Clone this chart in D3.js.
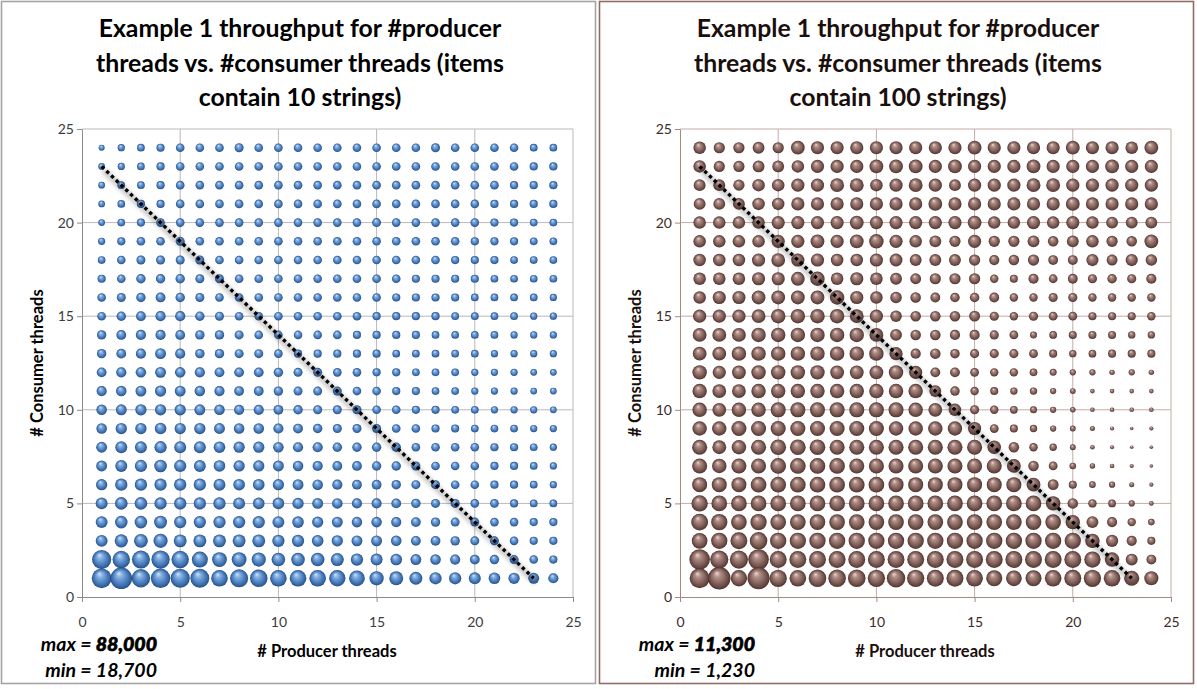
<!DOCTYPE html>
<html><head><meta charset="utf-8">
<script src="https://cdn.jsdelivr.net/npm/d3@7"></script>
<style>body{margin:0;background:#fff}svg{display:block}</style>
</head><body>
<svg id="c" width="1197" height="689"></svg>
<script>
// ---------- data ----------
const producerThreads = [1,2,3,4,5,6,7,8,9,10,11,12,13,14,15,16,17,18,19,20,21,22,23,24];
const consumerThreads = [24,23,22,21,20,19,18,17,16,15,14,13,12,11,10,9,8,7,6,5,4,3,2,1];
const axisTicks = [0,5,10,15,20,25];
const trendProducer = [1,23];
const trendConsumer = [23,1];
const titleLines10 = ["Example 1 throughput for #producer","threads vs. #consumer threads (items","contain 10 strings)"];
const titleLines100 = ["Example 1 throughput for #producer","threads vs. #consumer threads (items","contain 100 strings)"];
const xAxisTitle = "# Producer threads";
const yAxisTitle = "# Consumer threads";

// throughput (thousands of items/s), rows = consumer threads 24 .. 1, columns = producer threads 1 .. 24
const throughput10 = [
[18.7,21.6,23.1,24.6,26.1,26.1, 26.1,27.5,26.1,26.1,26.1,26.1, 26.1,26.1,26.1,26.1,26.1,27.5, 26.1,26.1,26.1,26.1,23.1,23.1],
[20.2,21.6,23.1,24.6,26.1,26.1, 26.1,26.1,26.1,26.1,26.1,26.1, 26.1,26.1,26.1,26.1,26.1,26.1, 26.1,26.1,26.1,26.1,24.6,24.6],
[20.2,23.1,23.1,24.6,26.1,26.1, 26.1,26.1,26.1,26.1,26.1,26.1, 26.1,26.1,26.1,26.1,26.1,26.1, 26.1,26.1,26.1,24.6,24.6,24.6],
[20.2,23.1,24.6,24.6,26.1,26.1, 26.1,26.1,26.1,26.1,26.1,26.1, 26.1,26.1,26.1,26.1,26.1,26.1, 26.1,26.1,24.6,24.6,24.6,24.6],
[20.2,23.1,24.6,26.1,26.1,26.1, 26.1,26.1,26.1,26.1,26.1,26.1, 26.1,26.1,27.5,26.1,26.1,26.1, 26.1,26.1,24.6,24.6,23.1,23.1],
[21.6,24.6,26.1,26.1,27.5,26.1, 26.1,26.1,26.1,26.1,26.1,26.1, 26.1,26.1,26.1,26.1,26.1,26.1, 26.1,24.6,24.6,24.6,23.1,23.1],
[23.1,26.1,27.5,27.5,27.5,27.5, 26.1,26.1,26.1,26.1,26.1,26.1, 26.1,26.1,26.1,26.1,26.1,26.1, 24.6,24.6,24.6,23.1,23.1,23.1],
[24.6,26.1,29.0,29.0,29.0,27.5, 27.5,26.1,26.1,26.1,26.1,26.1, 26.1,26.1,26.1,26.1,24.6,24.6, 24.6,24.6,23.1,23.1,23.1,23.1],
[26.1,27.5,29.0,30.5,29.0,27.5, 26.1,26.1,26.1,26.1,26.1,26.1, 26.1,26.1,26.1,24.6,24.6,24.6, 24.6,23.1,23.1,23.1,23.1,21.6],
[26.1,29.0,30.5,32.0,32.0,29.0, 27.5,26.1,26.1,26.1,26.1,26.1, 26.1,26.1,24.6,24.6,24.6,24.6, 23.1,23.1,23.1,23.1,21.6,21.6],
[29.0,30.5,32.0,32.0,30.5,29.0, 29.0,27.5,26.1,26.1,26.1,26.1, 26.1,24.6,24.6,24.6,24.6,23.1, 23.1,23.1,23.1,21.6,21.6,21.6],
[29.0,30.5,32.0,34.9,32.0,29.0, 29.0,27.5,27.5,26.1,24.6,24.6, 24.6,24.6,24.6,23.1,23.1,23.1, 23.1,23.1,21.6,21.6,21.6,21.6],
[30.5,32.0,33.4,34.9,33.4,32.0, 30.5,30.5,30.5,29.0,27.5,27.5, 26.1,26.1,24.6,24.6,23.1,23.1, 23.1,21.6,21.6,21.6,20.2,20.2],
[32.0,33.4,34.9,36.4,34.9,33.4, 32.0,30.5,30.5,29.0,27.5,27.5, 27.5,26.1,26.1,24.6,24.6,23.1, 23.1,21.6,21.6,21.6,20.2,20.2],
[33.4,34.9,36.4,36.4,36.4,34.9, 33.4,32.0,32.0,30.5,29.0,27.5, 27.5,27.5,26.1,26.1,24.6,24.6, 23.1,23.1,21.6,21.6,21.6,20.2],
[33.4,36.4,36.4,37.9,36.4,36.4, 34.9,33.4,33.4,32.0,30.5,29.0, 27.5,27.5,27.5,26.1,26.1,24.6, 24.6,23.1,23.1,23.1,21.6,21.6],
[34.9,39.3,39.3,40.8,39.3,39.3, 37.9,36.4,36.4,33.4,32.0,32.0, 29.0,29.0,29.0,29.0,26.1,26.1, 26.1,26.1,24.6,24.6,23.1,21.6],
[34.9,39.3,40.8,42.3,40.8,39.3, 37.9,36.4,36.4,34.9,33.4,32.0, 30.5,30.5,29.0,29.0,27.5,26.1, 26.1,26.1,24.6,24.6,23.1,21.6],
[36.4,40.8,40.8,40.8,40.8,40.8, 39.3,37.9,37.9,36.4,34.9,33.4, 32.0,30.5,30.5,29.0,27.5,27.5, 26.1,26.1,24.6,24.6,23.1,21.6],
[39.3,42.3,42.3,40.8,40.8,40.8, 40.8,39.3,37.9,37.9,36.4,34.9, 33.4,32.0,32.0,30.5,29.0,27.5, 27.5,26.1,26.1,24.6,23.1,23.1],
[39.3,42.3,42.3,43.8,40.8,40.8, 40.8,40.8,40.8,39.3,37.9,36.4, 34.9,33.4,33.4,32.0,30.5,29.0, 27.5,27.5,26.1,26.1,24.6,24.6],
[39.3,45.2,48.2,49.7,43.8,43.8, 43.8,43.8,43.8,40.8,40.8,37.9, 36.4,34.9,34.9,33.4,30.5,30.5, 29.0,27.5,27.5,26.1,24.6,24.6],
[74.7,65.9,68.8,70.3,65.9,58.5, 52.6,52.6,49.7,46.7,46.7,46.7, 43.8,40.8,39.3,37.9,34.9,33.4, 32.0,30.5,29.0,27.5,26.1,24.6],
[77.7,88.0,70.3,76.2,74.7,73.2, 61.4,68.8,65.9,61.4,61.4,61.4, 60.0,57.0,49.7,48.2,43.8,40.8, 40.8,39.3,37.9,36.4,34.9,32.0]
];
const throughput100 = [
[5.54,4.82,4.82,5.18,4.82,6.26, 5.90,5.90,5.90,5.90,5.90,5.90, 5.90,5.90,6.26,5.90,5.90,5.90, 5.90,6.26,5.90,5.90,5.54,6.26],
[5.54,4.82,4.82,5.18,5.18,5.54, 5.90,5.90,5.90,6.26,6.26,6.26, 5.90,6.26,5.90,5.90,5.90,6.26, 5.90,5.90,5.90,6.26,5.90,5.90],
[5.18,5.18,4.82,5.54,5.54,5.90, 5.90,6.26,6.26,5.54,5.90,6.26, 5.90,5.18,5.90,5.90,5.90,6.26, 6.26,5.90,5.90,5.90,5.90,5.90],
[5.18,5.18,5.18,5.54,5.54,5.90, 5.90,5.90,5.90,5.90,5.90,5.90, 6.26,5.90,5.90,5.90,5.90,5.90, 5.90,6.26,5.90,5.90,5.90,5.90],
[5.54,5.54,5.54,5.54,5.90,5.90, 5.90,5.90,6.26,5.90,5.90,5.90, 5.90,5.90,6.26,5.54,5.54,5.90, 5.54,5.90,5.54,5.18,5.18,5.18],
[5.54,5.54,5.54,5.54,5.90,5.90, 6.26,5.90,6.26,6.61,5.90,5.54, 5.18,4.82,5.90,4.82,4.82,5.18, 4.46,5.18,5.54,4.82,4.46,6.26],
[5.54,5.54,5.54,5.90,6.26,5.90, 5.90,5.54,5.54,5.90,5.72,5.18, 5.18,5.18,4.82,4.28,4.46,4.82, 4.10,4.10,5.36,4.64,5.36,5.00],
[5.54,5.54,5.54,5.90,5.90,6.26, 6.61,5.54,5.90,5.54,5.18,4.64, 4.82,4.82,4.82,3.38,3.20,4.28, 3.56,4.10,3.74,3.92,3.74,4.28],
[5.54,5.90,5.90,6.26,6.26,6.26, 6.26,6.61,5.90,5.54,5.00,4.46, 4.10,3.92,3.92,4.10,3.38,3.38, 3.74,3.74,3.38,3.38,3.38,3.38],
[5.90,5.90,5.90,6.26,6.61,6.61, 6.61,6.61,6.26,5.90,5.00,4.46, 4.46,4.46,4.64,3.74,3.38,3.74, 3.56,3.56,3.20,3.20,3.20,3.38],
[6.26,6.26,6.26,6.61,6.61,6.61, 6.61,6.61,6.61,6.26,5.18,4.46, 4.46,4.28,4.28,3.74,3.56,2.67, 3.03,3.20,3.20,3.20,2.85,2.85],
[6.26,6.26,6.61,6.61,6.61,6.61, 6.61,6.61,6.61,6.61,5.90,4.28, 4.46,3.92,3.74,3.74,3.74,3.56, 3.20,2.85,3.03,3.20,3.20,3.20],
[6.61,5.90,6.26,6.61,6.61,6.61, 6.61,6.26,6.26,6.26,6.61,5.90, 4.10,4.10,3.56,3.38,3.38,3.03, 2.67,2.31,2.31,1.95,2.31,1.95],
[6.61,6.26,6.26,6.61,6.61,6.61, 6.61,6.61,6.61,6.61,6.61,6.61, 5.18,3.92,3.38,3.20,2.85,2.85, 2.31,2.13,1.59,1.59,1.59,1.59],
[6.61,6.26,6.61,6.61,6.97,6.97, 6.97,6.97,6.97,6.97,6.97,6.61, 6.26,5.54,3.74,3.38,3.03,2.67, 2.31,1.95,1.59,1.59,1.59,1.59],
[6.61,6.61,6.97,6.97,6.97,6.97, 6.97,6.97,6.97,6.97,6.61,6.61, 6.61,6.61,5.90,3.56,3.20,2.85, 2.31,2.13,1.77,1.41,1.23,1.41],
[6.97,6.26,6.61,6.97,7.33,7.33, 7.33,6.97,6.97,6.97,6.97,6.97, 6.97,6.97,6.97,6.08,4.46,3.38, 2.85,2.13,1.59,1.41,1.23,1.23],
[6.97,6.61,6.97,6.97,7.33,7.33, 7.33,7.33,6.97,6.97,6.97,6.97, 6.97,6.97,6.97,6.97,6.26,4.46, 3.56,2.49,1.95,1.59,1.41,1.23],
[6.97,6.97,6.97,7.33,7.33,7.33, 7.33,7.33,7.33,7.33,6.97,6.97, 6.97,6.97,6.97,6.97,6.97,6.26, 4.64,3.20,2.49,2.31,1.77,1.41],
[7.69,7.33,7.33,7.33,7.33,7.33, 7.33,7.33,7.33,7.33,7.33,7.33, 7.33,7.33,7.33,7.33,7.33,7.33, 6.61,4.46,3.38,3.03,2.31,1.59],
[8.05,7.69,7.33,7.69,7.33,7.33, 7.33,7.33,7.33,7.33,7.33,7.33, 7.33,7.33,7.33,7.33,7.33,7.33, 7.33,6.61,5.18,4.28,3.38,2.49],
[7.33,7.69,8.05,8.41,7.69,7.69, 7.69,7.69,7.69,7.69,7.69,7.69, 7.69,7.69,7.69,7.69,7.69,7.69, 7.69,7.69,6.61,5.36,4.28,3.20],
[10.20,8.77,8.77,10.20,8.05,8.05, 8.05,8.05,8.05,8.05,8.05,8.05, 8.05,8.05,8.05,8.05,8.05,8.05, 8.05,8.05,7.69,6.61,5.18,4.10],
[9.85,11.30,7.69,11.12,8.23,7.87, 8.41,8.41,8.41,8.23,8.95,8.23, 8.05,8.05,7.87,7.51,7.33,7.51, 7.87,8.05,8.23,7.87,6.97,6.43]
];

// ---------- drawing ----------
const svg = d3.select("#c");
const defs = svg.append("defs");
function sphere(id, stops){
  const g = defs.append("radialGradient").attr("id",id)
    .attr("cx","50%").attr("cy","50%").attr("r","50%").attr("fx","38%").attr("fy","26%");
  stops.forEach(s=>g.append("stop").attr("offset",s[0]).attr("stop-color",s[1]));
}
sphere("gBlue",[[0,"#d4e5f9"],[0.28,"#86b0e2"],[0.62,"#5185c3"],[0.88,"#3463a0"],[1,"#274d80"]]);
sphere("gBrown",[[0,"#eed8d2"],[0.28,"#b08f89"],[0.62,"#88655f"],[0.88,"#634540"],[1,"#4d342f"]]);
const blur = defs.append("filter").attr("id","soft").attr("x","-10%").attr("y","-10%").attr("width","120%").attr("height","120%");
blur.append("feGaussianBlur").attr("stdDeviation",2.2);

const font = "Lato, 'Open Sans', 'DejaVu Sans', sans-serif";
const fmt = v => d3.format(",")(Math.round(v*1000));

const panels = [
  {ox:0, title:titleLines10, rows:throughput10, fill:"url(#gBlue)", grid:"#b9b9b9", axis:"#8c8c8c",
   text:"#3c3c3c", dark:"#000", border:"#a4a4a4", r:[3.0,10.8], k:0.8},
  {ox:598, title:titleLines100, rows:throughput100, fill:"url(#gBrown)", grid:"#c4aca7", axis:"#a38984",
   text:"#3e2b27", dark:"#1a0f0d", border:"#8f6c65", r:[1.8,11.2], k:0.88}
];

panels.forEach(p=>{
  const g = svg.append("g");
  g.append("rect").attr("x",p.ox+1.5).attr("y",1.5).attr("width",594).attr("height",682)
    .attr("fill","#fff").attr("stroke",p.border).attr("stroke-width",1.6);

  const x = d3.scaleLinear().domain([0,25]).range([p.ox+82, p.ox+573]);
  const y = d3.scaleLinear().domain([0,25]).range([597,129]);

  // gridlines
  g.selectAll("line.gv").data(axisTicks.slice(1)).join("line")
    .attr("x1",d=>x(d)).attr("x2",d=>x(d)).attr("y1",y(0)).attr("y2",y(25))
    .attr("stroke",p.grid).attr("stroke-width",1);
  g.selectAll("line.gh").data(axisTicks.slice(1)).join("line")
    .attr("x1",x(0)).attr("x2",x(25)).attr("y1",d=>y(d)).attr("y2",d=>y(d))
    .attr("stroke",p.grid).attr("stroke-width",1);

  // axes
  const ax = g.append("g").attr("transform",`translate(0,${y(0)})`)
    .call(d3.axisBottom(x).tickValues(axisTicks).tickSize(5).tickPadding(15).tickSizeOuter(0));
  const ay = g.append("g").attr("transform",`translate(${x(0)},0)`)
    .call(d3.axisLeft(y).tickValues(axisTicks).tickSize(5).tickPadding(3).tickSizeOuter(0));
  [ax,ay].forEach(a=>{
    a.select(".domain").attr("stroke",p.axis);
    a.selectAll(".tick line").attr("stroke",p.axis);
    a.selectAll(".tick text").attr("fill",p.text).style("font-family",font).style("font-size","14px");
  });

  // bubbles
  const pts = [];
  p.rows.forEach((row,i)=>row.forEach((v,j)=>pts.push({px:producerThreads[j], cy:consumerThreads[i], v})));
  const ext = d3.extent(pts,d=>d.v);
  const r = d3.scalePow().exponent(p.k).domain([0, ext[1]-ext[0]]).range([0, p.r[1]-p.r[0]]);
  g.append("g").selectAll("circle").data(pts).join("circle")
    .attr("cx",d=>x(d.px)).attr("cy",d=>y(d.cy)).attr("r",d=>p.r[0]+r(d.v-ext[0]))
    .attr("fill",p.fill);

  // trend line
  const tl = trendProducer.map((v,i)=>[v,trendConsumer[i]]);
  const line = d3.line().x(d=>x(d[0])).y(d=>y(d[1]));
  g.append("path").attr("d",line(tl)).attr("transform","translate(2,4)")
    .attr("stroke","#000").attr("stroke-opacity",0.22).attr("stroke-width",6).attr("fill","none")
    .attr("filter","url(#soft)");
  g.append("path").attr("d",line(tl))
    .attr("stroke","#000").attr("stroke-width",3.4).attr("stroke-dasharray","3.4,3.2").attr("fill","none");

  // title
  const cx = p.ox+300;
  g.append("text").attr("text-anchor","middle").attr("fill",p.dark)
    .style("font-family",font).style("font-weight","700").style("font-size","24.8px")
    .selectAll("tspan").data(p.title).join("tspan")
    .attr("x",cx).attr("y",(d,i)=>37+i*34.5).text(d=>d);

  // axis titles
  g.append("text").attr("x",p.ox+327).attr("y",657).attr("text-anchor","middle").attr("fill",p.dark)
    .style("font-family",font).style("font-weight","700").style("font-size","16.5px").text(xAxisTitle);
  g.append("text").attr("transform",`translate(${p.ox+43},${y(12.5)}) rotate(-90)`).attr("text-anchor","middle")
    .attr("fill",p.dark).style("font-family",font).style("font-weight","700").style("font-size","16.5px").text(yAxisTitle);

  // max / min
  const mx = g.append("text").attr("x",p.ox+157).attr("y",651).attr("text-anchor","end").attr("fill","#000")
    .style("font-family",font).style("font-style","italic").style("font-weight","700").style("font-size","19.5px");
  mx.append("tspan").text("max = ");
  mx.append("tspan").style("font-weight","900").attr("stroke","#000").attr("stroke-width",0.7).text(fmt(ext[1]));
  g.append("text").attr("x",p.ox+157).attr("y",677).attr("text-anchor","end").attr("fill","#000")
    .style("font-family",font).style("font-style","italic").style("font-weight","700").style("font-size","19.5px")
    .text("min = "+fmt(ext[0]));
});
</script>
</body></html>
